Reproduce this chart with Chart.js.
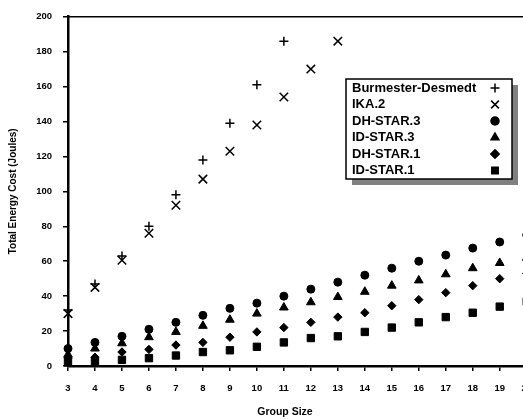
<!DOCTYPE html>
<html lang="en">
<head>
  <meta charset="UTF-8">
  <title>Total Energy Cost vs Group Size</title>
  <script src="https://cdn.jsdelivr.net/npm/chart.js"></script>
  <style>
    body {
      margin: 0;
      padding: 0;
      background: white;
      overflow: hidden;
    }
    #wrap {
      width: 544px;
      height: 419px;
    }
  </style>
</head>
<body>
  <div id="wrap">
    <canvas id="grafico" width="544" height="419"></canvas>
  </div>

  <script>
    const groupSizes = [3, 4, 5, 6, 7, 8, 9, 10, 11, 12, 13, 14, 15, 16, 17, 18, 19, 20];
    const burmester = [32, 47, 63, 80, 98, 118, 139, 161, 186, null, null, null, null, null, null, null, null, null];
    const ika2 = [30, 45, 60.5, 76, 92, 107, 123, 138, 154, 170, 186, null, null, null, null, null, null, null];
    const dhStar3 = [10, 13.5, 17, 21, 25, 29, 33, 36, 40, 44, 48, 52, 56, 60, 63.5, 67.5, 71, 75];
    const idStar3 = [6.5, 10, 13, 16.5, 19.5, 23, 26.5, 30, 33.5, 36.5, 39.5, 42.5, 46, 49, 52.5, 56, 59, 62];
    const dhStar1 = [4.5, 5, 8, 9.5, 12, 13.5, 16.5, 19.5, 22, 25, 28, 30.5, 34.5, 38, 42, 46, 50, 53];
    const idStar1 = [2, 2.5, 3.5, 4.5, 6, 8, 9, 11, 13.5, 16, 17, 19.5, 22, 25, 28, 30.5, 34, 37];

    const fontFam = '"Liberation Sans", Arial, sans-serif';

    function serie(label, values, style, radius, lineW) {
      return {
        label: label,
        data: groupSizes.map((g, i) => ({ x: g, y: values[i] })),
        showLine: false,
        pointStyle: style,
        pointRadius: radius,
        pointHoverRadius: radius,
        pointBorderWidth: lineW,
        pointBackgroundColor: '#000',
        pointBorderColor: '#000',
        clip: false
      };
    }

    // top frame line, x title, and legend box with shadow (labels left, markers right)
    const boxLegend = {
      id: 'boxLegend',
      afterDraw(chart) {
        const ctx = chart.ctx;
        const area = chart.chartArea;
        ctx.save();
        ctx.strokeStyle = '#000';
        ctx.lineWidth = 1.5;
        ctx.beginPath();
        ctx.moveTo(area.left, area.top);
        ctx.lineTo(chart.width, area.top);
        ctx.stroke();

        ctx.fillStyle = '#000';
        ctx.font = 'bold 10.5px ' + fontFam;
        ctx.textAlign = 'center';
        ctx.textBaseline = 'middle';
        ctx.fillText('Group Size', 285, 412);

        const bx = 346, by = 79, bw = 166, bh = 100;
        ctx.fillStyle = '#808080';
        ctx.fillRect(bx + 6, by + 6, bw, bh);
        ctx.fillStyle = '#fff';
        ctx.fillRect(bx, by, bw, bh);
        ctx.lineWidth = 1.5;
        ctx.strokeRect(bx, by, bw, bh);

        ctx.font = 'bold 13px ' + fontFam;
        ctx.textBaseline = 'middle';
        ctx.textAlign = 'left';
        chart.data.datasets.forEach((ds, i) => {
          const y = by + 9 + i * 16.5;
          ctx.fillStyle = '#000';
          ctx.fillText(ds.label, bx + 6, y);
          Chart.helpers.drawPoint(ctx, {
            pointStyle: ds.pointStyle,
            radius: ds.pointStyle === 'crossRot' ? 5.5 : Math.min(ds.pointRadius, 4.5),
            rotation: 0,
            borderWidth: ds.pointBorderWidth
          }, bx + 149, y);
          ctx.fillStyle = '#000';
          ctx.strokeStyle = '#000';
          if (ds.pointStyle !== 'cross' && ds.pointStyle !== 'crossRot') ctx.fill();
        });
        ctx.restore();
      }
    };

    const tickFont = { family: fontFam, size: 9.5, weight: 'bold' };

    new Chart(document.getElementById('grafico'), {
      type: 'scatter',
      data: {
        datasets: [
          serie('Burmester-Desmedt', burmester, 'cross', 4.5, 1.5),
          serie('IKA.2', ika2, 'crossRot', 6, 1.5),
          serie('DH-STAR.3', dhStar3, 'circle', 4, 1),
          serie('ID-STAR.3', idStar3, 'triangle', 5, 1),
          serie('DH-STAR.1', dhStar1, 'rectRot', 4.2, 1),
          serie('ID-STAR.1', idStar1, 'rect', 5.2, 1)
        ]
      },
      options: {
        responsive: false,
        animation: false,
        layout: { padding: { left: 0, top: 13, right: 4, bottom: 0 } },
        plugins: {
          legend: { display: false },
          tooltip: { enabled: false }
        },
        scales: {
          x: {
            type: 'linear',
            min: 3,
            max: 20,
            afterFit: s => { s.height = 53; },
            ticks: { stepSize: 1, color: '#000', font: tickFont, padding: 12, maxRotation: 0 },
            grid: { drawOnChartArea: false, drawTicks: true, tickLength: 5, color: '#000', lineWidth: 1.5 },
            border: { display: true, color: '#000', width: 2.5 }
          },
          y: {
            min: 0,
            max: 200,
            afterFit: s => { s.width = 68; },
            ticks: { stepSize: 20, color: '#000', font: tickFont, padding: 11 },
            grid: { drawOnChartArea: false, drawTicks: true, tickLength: 5, color: '#000', lineWidth: 1.5 },
            border: { display: true, color: '#000', width: 2.5 },
            title: { display: true, text: 'Total Energy Cost (Joules)', color: '#000', font: { family: fontFam, size: 10, weight: 'bold' }, padding: { top: 7, bottom: 0 } }
          }
        }
      },
      plugins: [boxLegend]
    });
  </script>
</body>
</html>
